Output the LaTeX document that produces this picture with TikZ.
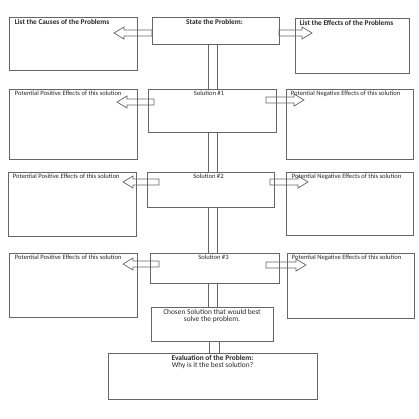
\documentclass[tikz,border=0pt]{standalone}
\usepackage{fontspec}
\setmainfont{Carlito}
\usetikzlibrary{fit,calc}
\tikzset{
  box/.style={draw=black!60, line width=0.7pt, inner sep=0pt, fit={#1}},
  tb/.style={inner sep=0pt, font=\fontsize{7.3}{8}\selectfont\bfseries, text=black!85},
  tl/.style={inner sep=0pt, font=\fontsize{6.6}{7.5}\selectfont, text=black!85},
  tc/.style={inner sep=0pt, align=center, font=\fontsize{7.4}{7.2}\selectfont, text=black!85},
  barline/.style={draw=black!60, line width=0.7pt},
  arr/.style={draw=black!60, line width=0.7pt, line join=miter}
}
\newcommand\barrow[2]{%
  \draw[arr] let \p1=(#1), \p2=(#2), \n1={sign(\x2-\x1)} in
    (\x1,\y1+3pt) -- (\x2-\n1*10pt,\y1+3pt) -- (\x2-\n1*10pt,\y1+6pt) --
    (\x2,\y1) -- (\x2-\n1*10pt,\y1-6pt) -- (\x2-\n1*10pt,\y1-3pt) --
    (\x1,\y1-3pt) -- cycle;}
\begin{document}
\begin{tikzpicture}[x=1pt,y=-1pt]
\useasboundingbox (0,0) rectangle (419,419);
% boxes
\node[box={(9,17) (137,70)}] (causes) {};
\node[box={(152,17) (279,44)}] (state) {};
\node[box={(295,18) (409,73)}] (effects) {};
\node[box={(148,89) (276,132)}] (sol1) {};
\node[box={(9,89) (137,159)}] (pos1) {};
\node[box={(286,89) (413,159)}] (neg1) {};
\node[box={(147,172) (274,207)}] (sol2) {};
\node[box={(8,172) (136,236)}] (pos2) {};
\node[box={(286,172) (413,235)}] (neg2) {};
\node[box={(150,253) (279,283)}] (sol3) {};
\node[box={(9,253) (137,317)}] (pos3) {};
\node[box={(287,253) (414,318)}] (neg3) {};
\node[box={(151,307) (273,341)}] (chosen) {};
\node[box={(108,353) (317,399)}] (eval) {};
% labels
\node[tb, anchor=north west] (causesT) at ($(causes.north west)+(6,3)$) {List the Causes of the Problems};
\node[tb, anchor=north] (stateT) at ($(state.north)+(-1,3)$) {State the Problem:};
\node[tb, anchor=north west] (effectsT) at ($(effects.north west)+(5,3)$) {List the Effects of the Problems};
\node[tl, anchor=north] (sol1T) at ($(sol1.north)+(-3,2.5)$) {Solution \#1};
\node[tl, anchor=north west] (pos1T) at ($(pos1.north west)+(6,2.5)$) {Potential Positive Effects of this solution};
\node[tl, anchor=north west] (neg1T) at ($(neg1.north west)+(5,2.5)$) {Potential Negative Effects of this solution};
\node[tl, anchor=north] (sol2T) at ($(sol2.north)+(-2,2)$) {Solution \#2};
\node[tl, anchor=north west] (pos2T) at ($(pos2.north west)+(5,2)$) {Potential Positive Effects of this solution};
\node[tl, anchor=north west] (neg2T) at ($(neg2.north west)+(6,2)$) {Potential Negative Effects of this solution};
\node[tl, anchor=north] (sol3T) at ($(sol3.north)+(-1,2.5)$) {Solution \#3};
\node[tl, anchor=north west] (pos3T) at ($(pos3.north west)+(6,2.5)$) {Potential Positive Effects of this solution};
\node[tl, anchor=north west] (neg3T) at ($(neg3.north west)+(5,2.5)$) {Potential Negative Effects of this solution};
\node[tc, anchor=north] (chosenT) at ($(chosen.north)+(0,2.5)$) {Chosen Solution that would best\\solve the problem.};
\node[tc, anchor=north] (evalT) at ($(eval.north)+(0,2.5)$) {\textbf{Evaluation of the Problem:}\\Why is it the best solution?};
% vertical bar
\foreach \a/\b in {state/sol1, sol1/sol2, sol2/sol3, sol3/chosen}{
  \draw[barline] (208,0 |- \a.south) -- (208,0 |- \b.north);
  \draw[barline] (217,0 |- \a.south) -- (217,0 |- \b.north);
}
\draw[barline] (209,0 |- chosen.south) -- (209,0 |- eval.north);
\draw[barline] (219,0 |- chosen.south) -- (219,0 |- eval.north);
% block arrows
\coordinate (a1s) at (152,33); \coordinate (a1e) at (114,33);
\coordinate (a2s) at (279,33); \coordinate (a2e) at (312,33);
\coordinate (a3s) at (154,102); \coordinate (a3e) at (117,102);
\coordinate (a4s) at (266,100); \coordinate (a4e) at (304,100);
\coordinate (a5s) at (159,182); \coordinate (a5e) at (123,182);
\coordinate (a6s) at (270,182); \coordinate (a6e) at (308,182);
\coordinate (a7s) at (159,264); \coordinate (a7e) at (123,264);
\coordinate (a8s) at (266,265); \coordinate (a8e) at (306,265);
\barrow{a1s}{a1e}
\barrow{a2s}{a2e}
\barrow{a3s}{a3e}
\barrow{a4s}{a4e}
\barrow{a5s}{a5e}
\barrow{a6s}{a6e}
\barrow{a7s}{a7e}
\barrow{a8s}{a8e}
\end{tikzpicture}
\end{document}
